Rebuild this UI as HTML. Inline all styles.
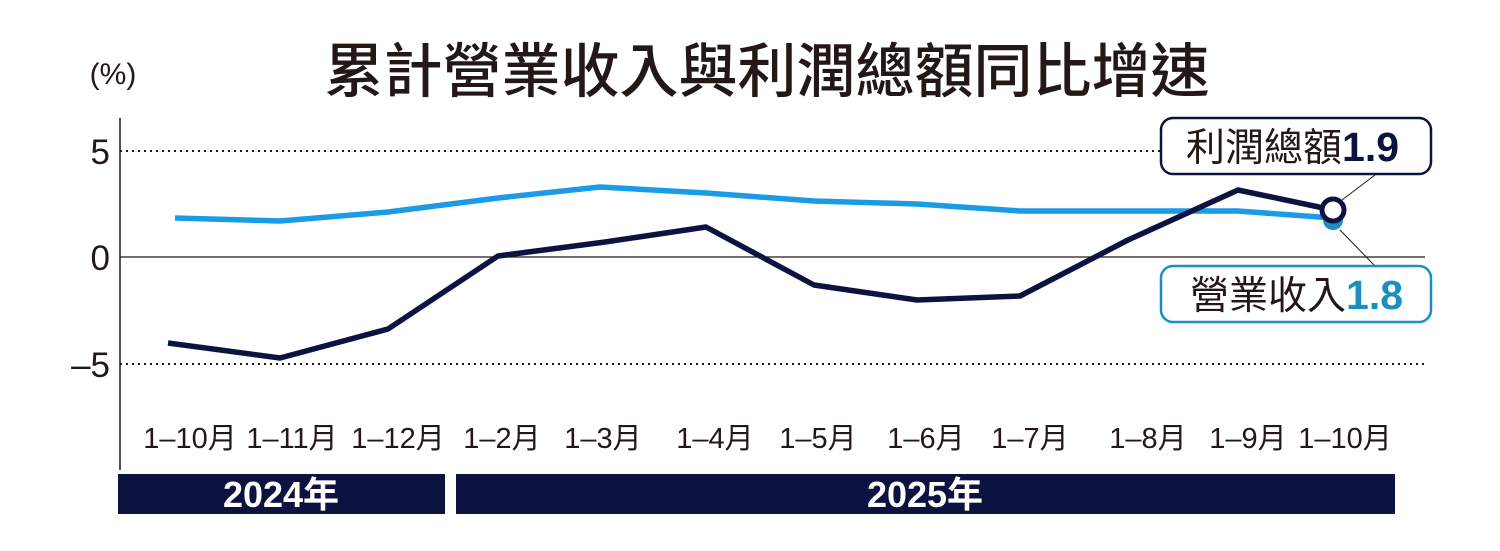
<!DOCTYPE html>
<html><head><meta charset="utf-8"><style>
body{margin:0;background:#fff;}
svg text{font-family:"Liberation Sans","Noto Sans CJK TC",sans-serif;}
</style></head><body>
<svg width="1500" height="546" viewBox="0 0 1500 546" xmlns="http://www.w3.org/2000/svg">
<rect width="1500" height="546" fill="#fff"/>
<text x="767" y="92" font-size="59" text-anchor="middle" fill="#231815" font-weight="500">累計營業收入與利潤總額同比增速</text>
<text x="113" y="84" font-size="30" text-anchor="middle" fill="#231815">(%)</text>
<line x1="120" y1="118" x2="120" y2="470" stroke="#231815" stroke-width="1.5"/>
<line x1="120" y1="151" x2="1425" y2="151" stroke="#231815" stroke-width="2" stroke-dasharray="2,4"/>
<line x1="120" y1="364" x2="1425" y2="364" stroke="#231815" stroke-width="2" stroke-dasharray="2,4"/>
<line x1="120" y1="257" x2="1425" y2="257" stroke="#231815" stroke-width="1.2"/>
<g font-size="35" fill="#231815" text-anchor="end">
<text x="110" y="164">5</text><text x="110" y="270">0</text><text x="110" y="377">–5</text>
</g>
<g font-size="29" fill="#231815" text-anchor="middle">
<text x="190" y="448">1–10月</text><text x="292" y="448">1–11月</text><text x="398" y="448">1–12月</text>
<text x="502" y="448">1–2月</text><text x="603" y="448">1–3月</text><text x="715" y="448">1–4月</text>
<text x="818" y="448">1–5月</text><text x="926" y="448">1–6月</text><text x="1030" y="448">1–7月</text>
<text x="1148" y="448">1–8月</text><text x="1248" y="448">1–9月</text><text x="1345" y="448">1–10月</text>
</g>
<rect x="118" y="474" width="327" height="40" fill="#0d1240"/>
<rect x="456" y="474" width="939" height="40" fill="#0d1240"/>
<text x="281" y="507" font-size="36" font-weight="bold" fill="#fff" text-anchor="middle">2024年</text>
<text x="925" y="507" font-size="36" font-weight="bold" fill="#fff" text-anchor="middle">2025年</text>
<polyline fill="none" stroke="#1a9be6" stroke-width="5.5" stroke-linejoin="round" points="175,218 280,221 388,212 498,198 600,187 706,193 814,201 917,204 1020,211 1128,211 1238,211 1333,218"/>
<circle cx="1333" cy="220" r="10" fill="#1a8fc0"/>
<polyline fill="none" stroke="#0d1240" stroke-width="5.5" stroke-linejoin="round" points="168,343 280,358 388,329 498,256 605,242 706,227 814,285 917,300 1020,296 1128,240 1238,190 1333,210"/>
<circle cx="1333" cy="210" r="11" fill="#fff" stroke="#0d1240" stroke-width="5"/>
<line x1="1342" y1="200" x2="1375" y2="175" stroke="#231815" stroke-width="1"/>
<line x1="1340" y1="230" x2="1375" y2="266" stroke="#231815" stroke-width="1"/>
<rect x="1161" y="118" width="270" height="56" rx="12" fill="#fff" stroke="#0d1240" stroke-width="2.5"/>
<text x="1186" y="161" font-size="39" fill="#231815">利潤總額<tspan font-weight="bold" fill="#0d1240" font-size="41">1.9</tspan></text>
<rect x="1161" y="266" width="270" height="56" rx="12" fill="#fff" stroke="#1a8fc0" stroke-width="2.5"/>
<text x="1190" y="309" font-size="39" fill="#231815">營業收入<tspan font-weight="bold" fill="#1a8fc0" font-size="41">1.8</tspan></text>
</svg>
</body></html>
